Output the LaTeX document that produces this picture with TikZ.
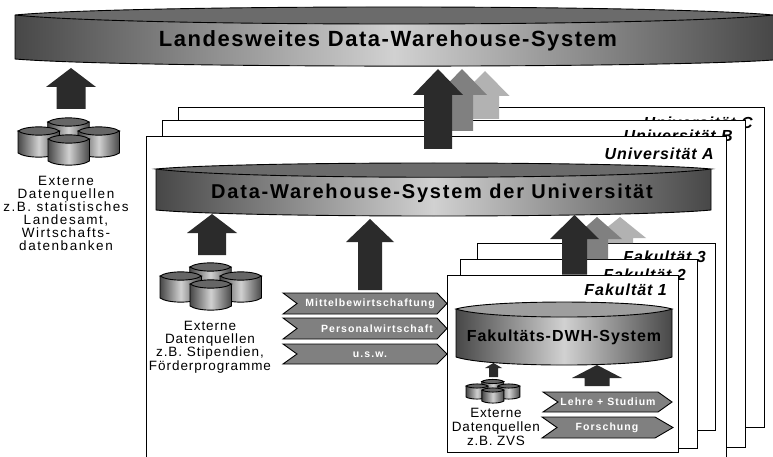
\documentclass[tikz,border=0pt]{standalone}
\usepackage{fontspec}
\setmainfont{Liberation Sans}
\tikzset{
  frame/.style={draw=black,line width=1pt,fill=white},
  darkarrow/.style={fill=black!83,draw=none},
  midarrow/.style={fill=black!50,draw=none},
  lightarrow/.style={fill=black!30,draw=none},
  chev/.style={draw=black,line width=.9pt,fill=black!50},
  bodyshade/.style={left color=black!72,right color=black!72,middle color=black!18,shading angle=90},
  outline/.style={draw=black,line width=.9pt},
  chevtext/.style={text=white,font=\fontsize{10.5}{12}\selectfont\bfseries\addfontfeature{LetterSpace=#1},inner sep=0pt},
  chevtext/.default=10,
  frametext/.style={anchor=east,inner sep=0pt,font=\fontsize{#1}{18}\selectfont\bfseries\itshape\addfontfeature{LetterSpace=6}},
  sidetext/.style 2 args={align=center,inner sep=0pt,font=\fontsize{13.5}{#1}\selectfont\addfontfeature{LetterSpace=#2}},
}
% block arrow: tip x, tip y, head half width, shaft half width, head base y, bottom y
\newcommand{\blockarrow}[7]{%
  \fill[#1] (#2,#3) -- (#2+#4,#6) -- (#2+#5,#6) -- (#2+#5,#7) -- (#2-#5,#7) -- (#2-#5,#6) -- (#2-#4,#6) -- cycle;}
% one small cylinder in cluster coordinates
\newcommand{\onecyl}[2]{%
  \begin{scope}[shift={(#1,#2)}]
    \shade[bodyshade] (0,0) -- (0,22) .. controls (8,27.5) and (33.5,27.5) .. (41.5,22) -- (41.5,0) -- cycle;
    \draw[outline] (0,0) -- (0,22) .. controls (8,27.5) and (33.5,27.5) .. (41.5,22) -- (41.5,0);
    \filldraw[outline,fill=black!60] (0,0) .. controls (8,-5.5) and (33.5,-5.5) .. (41.5,0) .. controls (33.5,5.5) and (8,5.5) .. (0,0) -- cycle;
  \end{scope}}
\newcommand{\cluster}[3][]{%
  \begin{scope}[shift={(#2,#3)},#1]
    \onecyl{29.7}{5}\onecyl{0}{14}\onecyl{60}{14}\onecyl{30}{22}
  \end{scope}}
% chevron: left, notch, shoulder, tip, top, bottom
\newcommand{\chevron}[6]{%
  \filldraw[chev] (#1,#5) -- (#3,#5) -- (#4,{(#5+#6)/2}) -- (#3,#6) -- (#1,#6) -- (#2,{(#5+#6)/2}) -- cycle;}
\begin{document}
\begin{tikzpicture}[x=1pt,y=-1pt]
\useasboundingbox (0,0) rectangle (773,457);
\clip (0,0) rectangle (773,457);
% top cylinder
\shade[bodyshade] (15,15) .. controls (129,27) and (659,27) .. (773,15) -- (773,60) .. controls (659,68.3) and (129,68.3) .. (15,59) -- cycle;
\draw[outline] (15,15) -- (15,59) .. controls (129,68.3) and (659,68.3) .. (773,60);
\filldraw[outline,fill=black!58] (15,15) .. controls (129,4.3) and (659,4.3) .. (773,15) .. controls (659,27) and (129,27) .. (15,15) -- cycle;
\node[inner sep=0pt,font=\fontsize{22}{26}\selectfont\bfseries\addfontfeature{LetterSpace=7}] (topname) at (388,41) {Landesweites Data-Warehouse-System};
% left externals
\blockarrow{darkarrow}{71}{68}{25}{14.5}{87}{109}
\cluster{18}{117}
\node[sidetext={12.9}{11.5}] (ext1) at (66,213.5) {Externe\\Datenquellen\\z.B. statistisches\\Landesamt,\\Wirtschafts-\\datenbanken};
% university frames
\draw[frame] (178,108) rectangle (764,427);
\node[frametext=16] (unic) at (753,123) {Universität C};
\blockarrow{lightarrow}{485}{71}{24.5}{14}{96}{119}
\draw[frame] (162.5,120.5) rectangle (745,447);
\node[frametext=16] (unib) at (733,136) {Universität B};
\blockarrow{midarrow}{462}{69}{25}{11}{95}{131}
\draw[frame] (146.5,137) rectangle (726,480);
\node[frametext=16] (unia) at (714,154) {Universität A};
\blockarrow{darkarrow}{438}{69}{25}{14}{95}{149}
% university cylinder
\shade[bodyshade] (156,169) .. controls (240,180) and (627,180) .. (711,169) -- (711,210) .. controls (627,218) and (240,218) .. (156,210) -- cycle;
\draw[outline] (156,169) -- (156,210) .. controls (240,218) and (627,218) .. (711,210) -- (711,169);
\filldraw[outline,fill=black!58] (156,169) .. controls (240,161) and (627,161) .. (711,169) .. controls (627,180) and (240,180) .. (156,169) -- cycle;
\node[inner sep=0pt,font=\fontsize{20}{24}\selectfont\bfseries\addfontfeature{LetterSpace=9}] (uniname) at (432,193) {Data-Warehouse-System der Universität};
\blockarrow{darkarrow}{212}{214}{25}{14}{233}{255}
\blockarrow{darkarrow}{370}{219}{24}{12}{242}{290}
\cluster{160}{262}
\node[sidetext={13.2}{7}] (ext2) at (210,347) {Externe\\Datenquellen\\z.B. Stipendien,\\Förderprogramme};
% chevrons
\chevron{283}{297}{437}{447}{293}{314}
\node[chevtext] (c1) at (370,304) {Mittelbewirtschaftung};
\chevron{283}{297}{437}{447}{318}{339}
\node[chevtext] (c2) at (377,329) {Personalwirtschaft};
\chevron{283}{297}{437}{447}{344}{364}
\node[chevtext] (c3) at (370,355) {u.s.w.};
% faculty frames
\draw[frame] (477,243) rectangle (715,430);
\node[frametext=16] (f3) at (706,257) {Fakultät 3};
\blockarrow{lightarrow}{620}{217}{26}{13}{238}{243}
\draw[frame] (460,259) rectangle (697,448);
\node[frametext=16] (f2) at (686,275) {Fakultät 2};
\blockarrow{midarrow}{597}{217}{25}{11}{239}{259}
\draw[frame] (447,275.5) rectangle (678,452);
\node[frametext=16] (f1) at (667,290) {Fakultät 1};
\blockarrow{darkarrow}{574.5}{215}{24.5}{12.5}{239}{274.5}
% faculty cylinder
\shade[bodyshade] (456,309) .. controls (488,319.7) and (640,319.7) .. (672,309) -- (672,357) .. controls (640,367.7) and (488,367.7) .. (456,357) -- cycle;
\draw[outline] (456,309) -- (456,357) .. controls (488,367.7) and (640,367.7) .. (672,357) -- (672,309);
\filldraw[outline,fill=black!38] (456,309) .. controls (488,299.7) and (640,299.7) .. (672,309) .. controls (640,319.7) and (488,319.7) .. (456,309) -- cycle;
\node[inner sep=0pt,font=\fontsize{16}{20}\selectfont\bfseries\addfontfeature{LetterSpace=6}] (fakname) at (564,337) {Fakultäts-DWH-System};
\blockarrow{darkarrow}{493.5}{363}{8.5}{4.5}{368}{377}
\blockarrow{darkarrow}{597}{365}{25}{12.5}{378}{386}
\cluster[xscale=.53,yscale=.5]{466}{379}
\node[sidetext={14}{5.7}] (ext3) at (496,427) {Externe\\Datenquellen\\z.B. ZVS};
\chevron{543}{558}{658}{672}{392}{412}
\node[chevtext] (c4) at (608,402) {Lehre + Studium};
\chevron{542}{557}{655}{673}{417}{438}
\node[chevtext] (c5) at (607,428) {Forschung};
\end{tikzpicture}
\end{document}
